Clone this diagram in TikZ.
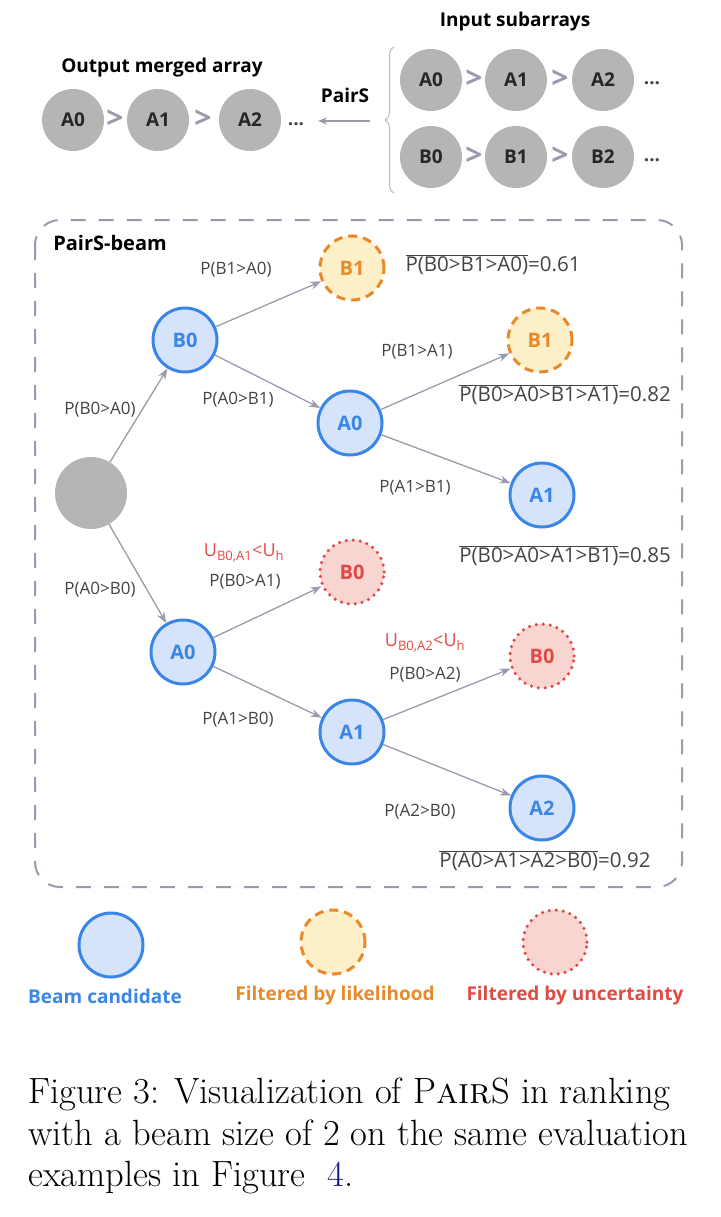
\documentclass[tikz,border=0pt]{standalone}
\usepackage{fontspec}
\newfontfamily\osf{Open Sans}
\usetikzlibrary{arrows.meta,decorations.pathreplacing}
\definecolor{bstroke}{HTML}{3A86E8}\definecolor{bfill}{HTML}{D6E4FB}
\definecolor{ostroke}{HTML}{E8892A}\definecolor{ofill}{HTML}{FDEFC8}
\definecolor{rstroke}{HTML}{E04A45}\definecolor{rfill}{HTML}{F8D5D1}
\definecolor{gfill}{HTML}{B5B5B5}\definecolor{arr}{HTML}{9A9AAD}
\definecolor{txt}{HTML}{444444}\definecolor{navy}{HTML}{1A1A8C}
\newcommand{\ov}[1]{$\overline{\hbox{#1}}$}
\begin{document}
\begin{tikzpicture}[x=1pt,y=-1pt,
 every node/.style={font=\osf},
 gnode/.style={circle,fill=gfill,minimum size=62pt,inner sep=0pt,font=\osf\fontsize{19}{19}\selectfont\bfseries,text=black!85},
 bnode/.style={circle,fill=bfill,draw=bstroke,line width=3pt,minimum size=64pt,inner sep=0pt,text=bstroke,font=\osf\fontsize{20}{20}\selectfont\bfseries},
 onode/.style={bnode,fill=ofill,draw=ostroke,text=ostroke,dash pattern=on 9pt off 6pt},
 rnode/.style={bnode,fill=rfill,draw=rstroke,text=rstroke,dash pattern=on 0pt off 7pt,line cap=round,line width=3.5pt},
 gt/.style={text=arr,font=\osf\fontsize{30}{30}\selectfont\bfseries},
 lab/.style={text=txt,font=\osf\fontsize{17}{17}\selectfont},
 res/.style={text=txt,font=\osf\fontsize{20.5}{20.5}\selectfont},
 ulab/.style={text=rstroke,font=\osf\fontsize{18}{18}\selectfont},
 hd/.style={text=black,font=\osf\fontsize{19}{19}\selectfont\bfseries},
 leg/.style={font=\osf\fontsize{19}{19}\selectfont\bfseries},
 edge/.style={draw=arr,line width=1.3pt,-{Stealth[length=11pt,width=8pt]}}]
\useasboundingbox (0,0) rectangle (720,1217);
% top
\node[hd] (ti) at (515,22) {Input subarrays};
\node[hd] (to) at (162,68) {Output merged array};
\node[gnode] (o0) at (73,120) {A0};
\node[gt] (og1) at (115,119) {>};
\node[gnode] (o1) at (158,120) {A1};
\node[gt] (og2) at (203,119) {>};
\node[gnode] (o2) at (250,120) {A2};
\node[hd,text=txt] (od) at (296,124) {...};
\node[hd] (ps) at (345,95) {PairS};
\coordinate (pa) at (370,121); \coordinate (pb) at (318,121);
\draw[draw=arr,line width=1.5pt,-{Stealth[length=9pt,width=7pt]}] (pa) -- (pb);
\draw[draw=arr!70,line width=1pt,decorate,decoration={brace,amplitude=9pt,aspect=0.5}] (394,193) -- (394,47);
\foreach \r/\y/\c in {a/80/A,b/157/B}{
 \node[gnode] (\r0) at (431,\y) {\c0};
 \node[gt] at (474,\y-1) {>};
 \node[gnode] (\r1) at (516,\y) {\c1};
 \node[gt] at (560,\y-1) {>};
 \node[gnode] (\r2) at (603,\y) {\c2};
 \node[hd,text=txt] at (652,\y+3) {...};}
% box
\draw[draw=arr,line width=2pt,dash pattern=on 15pt off 13pt,rounded corners=25pt] (35,220) rectangle (682,887);
\node[hd,font=\osf\fontsize{20}{20}\selectfont\bfseries] (pbm) at (110,243) {PairS-beam};
% tree
\node[circle,fill=gfill,minimum size=72pt] (root) at (91,493) {};
\node[bnode] (b0) at (185,340) {B0};
\node[onode] (b1a) at (352,268) {B1};
\node[bnode] (a0u) at (350,423) {A0};
\node[onode] (b1b) at (540,340) {B1};
\node[bnode] (a1u) at (542,495) {A1};
\node[bnode] (a0l) at (183,652) {A0};
\node[rnode] (b0a) at (352,572) {B0};
\node[bnode] (a1l) at (352,732) {A1};
\node[rnode] (b0b) at (542,656) {B0};
\node[bnode] (a2) at (542,808) {A2};
\draw[edge] (root) -- (b0);
\draw[edge] (root) -- (a0l);
\draw[edge] (b0) -- (b1a);
\draw[edge] (b0) -- (a0u);
\draw[edge] (a0u) -- (b1b);
\draw[edge] (a0u) -- (a1u);
\draw[edge] (a0l) -- (b0a);
\draw[edge] (a0l) -- (a1l);
\draw[edge] (a1l) -- (b0b);
\draw[edge] (a1l) -- (a2);
\node[lab] (l1) at (100,410) {P(B0>A0)};
\node[lab] (l2) at (100,590) {P(A0>B0)};
\node[lab] (l3) at (236,270) {P(B1>A0)};
\node[lab] (l4) at (238,400) {P(A0>B1)};
\node[lab] (l5) at (417,352) {P(B1>A1)};
\node[lab] (l6) at (415,488) {P(A1>B1)};
\node[ulab] (u1) at (244,553) {U$_{\hbox{\osf\fontsize{13}{13}\selectfont B0,A1}}$<U$_{\hbox{\osf\fontsize{13}{13}\selectfont h}}$};
\node[lab] (l7) at (245,582) {P(B0>A1)};
\node[ulab] (u2) at (425,643) {U$_{\hbox{\osf\fontsize{13}{13}\selectfont B0,A2}}$<U$_{\hbox{\osf\fontsize{13}{13}\selectfont h}}$};
\node[lab] (l8) at (425,675) {P(B0>A2)};
\node[lab] (l9) at (238,720) {P(A1>B0)};
\node[lab] (l10) at (420,812) {P(A2>B0)};
\node[res] (r1) at (493,265) {\ov{P(B0>B1>A0)}=0.61};
\node[res] (r2) at (565,395) {\ov{P(B0>A0>B1>A1)}=0.82};
\node[res] (r3) at (565,556) {\ov{P(B0>A0>A1>B1)}=0.85};
\node[res] (r4) at (545,861) {\ov{P(A0>A1>A2>B0)}=0.92};
% legend
\node[bnode] (lg1) at (111,945) {};
\node[onode] (lg2) at (333,942) {};
\node[rnode] (lg3) at (555,942) {};
\node[leg,text=bstroke] (t1) at (105,996) {Beam candidate};
\node[leg,text=ostroke] (t2) at (335,996) {Filtered by likelihood};
\node[leg,text=rstroke] (t3) at (575,996) {Filtered by uncertainty};
% caption
\node[anchor=north west,align=left,inner sep=0pt,font=\rmfamily\fontsize{36.5}{41.5}\selectfont,text=black] (cap) at (28,1078)
 {Figure 3: Visualization of P\textsc{air}S in ranking\\with a beam size of 2 on the same evaluation\\examples in Figure~~\textcolor{navy}{4}.};
\end{tikzpicture}
\end{document}
